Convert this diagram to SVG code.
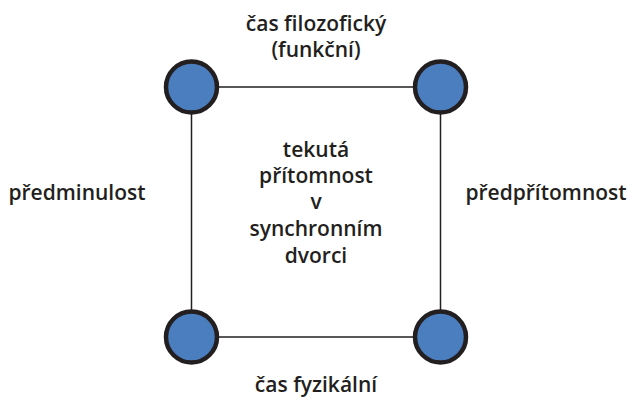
<svg xmlns="http://www.w3.org/2000/svg" width="628" height="400" viewBox="0 0 628 400">
<style>
.t{font-family:"Open Sans","Liberation Sans",sans-serif;font-weight:600;font-size:21px;fill:#231f20;text-anchor:middle}
.n{fill:#4a7ebf;stroke:#231f20;stroke-width:4.5}
.e{stroke:#231f20;stroke-width:1.5;fill:none}
</style>
<rect width="628" height="400" fill="#fff"/>
<g id="connectors">
<line class="e" x1="191.5" y1="87" x2="440.5" y2="87"/>
<line class="e" x1="191.5" y1="337" x2="440.5" y2="337"/>
<line class="e" x1="191.5" y1="87" x2="191.5" y2="337"/>
<line class="e" x1="440.5" y1="87" x2="440.5" y2="337"/>
</g>
<g id="n1"><circle class="n" cx="191.5" cy="87" r="25.5"/></g>
<g id="n2"><circle class="n" cx="440.5" cy="87" r="25.5"/></g>
<g id="n3"><circle class="n" cx="191.5" cy="337" r="25.5"/></g>
<g id="n4"><circle class="n" cx="440.5" cy="337" r="25.5"/></g>
<g id="labels">
<text class="t" x="316" y="31">čas filozofický</text>
<text class="t" x="316" y="57">(funkční)</text>
<text class="t" x="77" y="200">předminulost</text>
<text class="t" x="546" y="200">předpřítomnost</text>
<text class="t" x="316" y="157">tekutá</text>
<text class="t" x="316" y="183">přítomnost</text>
<text class="t" x="316" y="209">v</text>
<text class="t" x="316" y="236">synchronním</text>
<text class="t" x="316" y="263">dvorci</text>
<text class="t" x="316" y="392">čas fyzikální</text>
</g>
</svg>
